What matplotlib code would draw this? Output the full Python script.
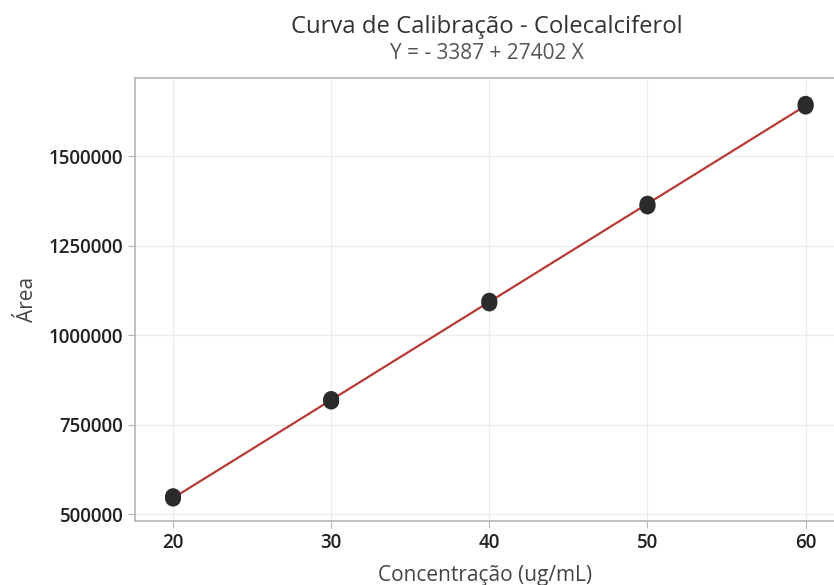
import numpy as np
import matplotlib
matplotlib.use("Agg")
import matplotlib.pyplot as plt

plt.rcParams["font.family"] = ["Open Sans", "DejaVu Sans"]

# concentrations (ug/mL) with replicates, and peak areas
conc = [20, 20, 20, 30, 30, 30, 40, 40, 40, 50, 50, 50, 60, 60, 60]
area = [
    543000, 546500, 550000,
    814000, 818000, 821500,
    1088000, 1092000, 1096000,
    1359000, 1363000, 1367000,
    1638000, 1642000, 1646000,
]

intercept = -3387
slope = 27402

x_ticks = [20, 30, 40, 50, 60]
y_ticks = [500000, 750000, 1000000, 1250000, 1500000]

fig = plt.figure(figsize=(8.34, 5.85), dpi=100)
ax = fig.add_axes([0.162, 0.1094, 0.84, 0.7573])

xfit = np.array([min(conc), max(conc)])
ax.plot(xfit, intercept + slope * xfit, color="#b83a34", lw=1.6, zorder=2)
ax.scatter(conc, area, s=130, color="#2b2b2b", edgecolors="none", zorder=3)

ax.set_xlim(17.6, 61.9)
ax.set_ylim(480500, 1718000)
ax.set_xticks(x_ticks)
ax.set_yticks(y_ticks)
ax.set_yticklabels([str(v) for v in y_ticks])

ax.grid(True, color="#ececec", lw=0.8)
ax.set_axisbelow(True)
for side in ["left", "bottom", "top"]:
    ax.spines[side].set_color("#b5b5b5")
    ax.spines[side].set_linewidth(1.2)
ax.spines["right"].set_visible(False)
ax.tick_params(axis="both", colors="#b5b5b5", length=5, width=0.8,
               labelcolor="#222222", labelsize=13.5)
for lab in ax.get_xticklabels() + ax.get_yticklabels():
    lab.set_fontweight("semibold")

ax.set_xlabel("Concentração (ug/mL)", fontsize=15, color="#444444", labelpad=9)
ax.set_ylabel("Área", fontsize=15, color="#444444", labelpad=8)

fig.text(0.584, 0.953, "Curva de Calibração - Colecalciferol", ha="center",
         va="center", fontsize=17.2, color="#333333")
fig.text(0.584, 0.909, "Y = - 3387 + 27402 X", ha="center", va="center",
         fontsize=15, color="#555555")

fig.savefig("out.png", dpi=100)
